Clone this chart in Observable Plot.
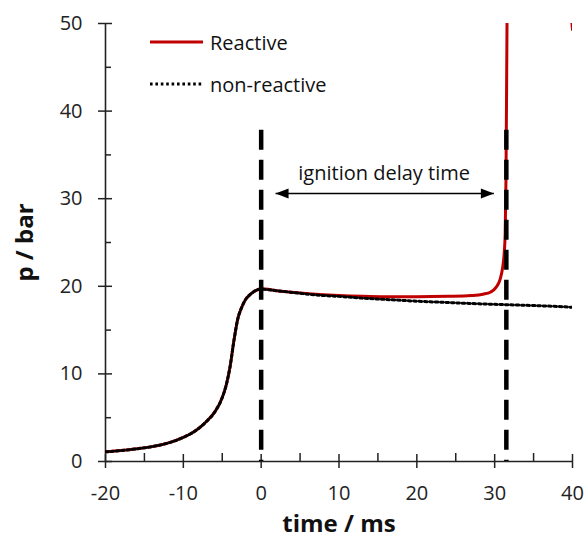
<!DOCTYPE html>
<html>
<head>
<meta charset="utf-8">
<script src="https://cdn.jsdelivr.net/npm/d3@7"></script>
<script src="https://cdn.jsdelivr.net/npm/@observablehq/plot@0.6"></script>
<style>
  html, body { margin: 0; padding: 0; background: #fff; }
  #wrap { position: relative; width: 585px; height: 542px; font-family: "Open Sans", sans-serif; }
  .leg { position: absolute; left: 150px; display: flex; align-items: center; font-size: 20px; color: #111; }
  .leg svg { margin-right: 6px; }
</style>
</head>
<body>
<div id="wrap"></div>
<script>
// ---- data ----
// shared compression phase (both curves coincide before t = 0)
const riseTime     = [-20, -18, -16, -14, -12, -10, -9, -8, -7, -6, -5, -4.5, -4, -3.5, -3, -2.5, -2, -1.5, -1, -0.5];
const risePressure = [1.1, 1.25, 1.45, 1.7, 2.1, 2.75, 3.2, 3.8, 4.6, 5.6, 7.3, 8.7, 10.8, 13.8, 16.3, 17.6, 18.5, 19.0, 19.35, 19.6];
// reactive mixture after end of compression
const reactiveTime     = [0, 0.5, 2, 5, 8, 10, 13, 16, 20, 24, 27, 28.5, 29.5, 30.2, 30.7, 31, 31.2, 31.35, 31.45, 31.55, 31.6, 31.7, 39.7, 40];
const reactivePressure = [19.7, 19.7, 19.5, 19.25, 19.05, 18.95, 18.85, 18.8, 18.8, 18.85, 18.95, 19.1, 19.35, 19.9, 20.8, 22, 23.5, 26, 32, 45, 52, 80, 52, 49.3];
// non-reactive mixture after end of compression
const nonReactiveTime     = [0, 0.5, 2, 5, 8, 10, 13, 16, 20, 24, 28, 31.5, 35, 38, 40];
const nonReactivePressure = [19.7, 19.65, 19.5, 19.2, 18.95, 18.85, 18.65, 18.5, 18.3, 18.15, 18.0, 17.9, 17.8, 17.7, 17.6];
// annotations
const delayMarkers = [0, 31.5];          // end of compression, ignition
const markerTop = 37.8;                  // upper end of dashed markers (bar)
const delayArrow = [{x1: 1.85, x2: 29.9, y: 30.6}];
const delayLabel = [{x: 15.8, y: 32.9, text: "ignition delay time"}];
// axes
const xDomain = [-20, 40], yDomain = [0, 50];
const xMajor = [-20, -10, 0, 10, 20, 30, 40];
const xMinor = [-15, -5, 5, 15, 25, 35];
const yMajor = [0, 10, 20, 30, 40, 50];
const yMinor = [5, 15, 25, 35, 45];
const xLabel = "time / ms", yLabel = "p / bar";
const seriesNames = ["Reactive", "non-reactive"];

// ---- build tables ----
const rise = riseTime.map((t, i) => ({t, p: risePressure[i]}));
const reactive = rise.concat(reactiveTime.map((t, i) => ({t, p: reactivePressure[i]})));
const nonReactive = rise.concat(nonReactiveTime.map((t, i) => ({t, p: nonReactivePressure[i]})));

const headRight = {draw(ctx) { ctx.moveTo(0, 0); ctx.lineTo(-13, -5); ctx.lineTo(-13, 5); ctx.closePath(); }};
const headLeft  = {draw(ctx) { ctx.moveTo(0, 0); ctx.lineTo(13, -5); ctx.lineTo(13, 5); ctx.closePath(); }};
const ink = "#222";
const fmt = d => String(d);
const dotDash = "2.6,2.8";

const chart = Plot.plot({
  width: 585, height: 542,
  marginLeft: 105, marginRight: 13, marginTop: 23, marginBottom: 81,
  x: {domain: xDomain},
  y: {domain: yDomain},
  style: {fontFamily: "Open Sans, sans-serif", fontSize: "20px", color: ink, background: "white"},
  marks: [
    // axis lines
    Plot.ruleX([xDomain[0]], {stroke: ink, strokeWidth: 1.6}),
    Plot.ruleY([yDomain[0]], {stroke: ink, strokeWidth: 1.6}),
    // y ticks
    Plot.axisY({ticks: yMajor, tickSize: 14, dx: 7, text: null, label: null, stroke: ink, strokeWidth: 1.5}),
    Plot.axisY({ticks: yMinor, tickSize: 6, dx: 6, text: null, label: null, stroke: ink, strokeWidth: 1.5}),
    Plot.axisY({ticks: yMajor, tickSize: 0, tickPadding: 23, tickFormat: fmt, label: null, fill: ink}),
    // x ticks
    Plot.axisX({ticks: xMajor, tickSize: 14, dy: -7, text: null, label: null, stroke: ink, strokeWidth: 1.5}),
    Plot.axisX({ticks: xMinor, tickSize: 8, dy: -8, text: null, label: null, stroke: ink, strokeWidth: 1.5}),
    Plot.axisX({ticks: xMajor, tickSize: 0, tickPadding: 24, tickFormat: fmt, label: null, fill: ink}),
    // axis titles
    Plot.text([xLabel], {frameAnchor: "bottom", textAnchor: "middle", lineAnchor: "middle", dy: 63, fontWeight: "bold", fontSize: 24, fill: "#111"}),
    Plot.text([yLabel], {frameAnchor: "left", textAnchor: "middle", lineAnchor: "middle", dx: -80, rotate: -90, fontWeight: "bold", fontSize: 24, fill: "#111"}),
    // curves
    Plot.line(reactive, {x: "t", y: "p", stroke: "#C00000", strokeWidth: 3, curve: "monotone-x", clip: true}),
    Plot.line(nonReactive, {x: "t", y: "p", stroke: "#000", strokeWidth: 3, strokeDasharray: dotDash, curve: "monotone-x", clip: true}),
    // dashed markers
    Plot.ruleX(delayMarkers, {y1: markerTop, y2: 0, stroke: "#000", strokeWidth: 4.5, strokeDasharray: "20,10"}),
    // ignition delay arrow
    Plot.link(delayArrow, {x1: "x1", x2: "x2", y1: "y", y2: "y", stroke: "#000", strokeWidth: 1.5}),
    Plot.dot(delayArrow, {x: "x2", y: "y", symbol: headRight, r: 5, fill: "#000", stroke: null}),
    Plot.dot(delayArrow, {x: "x1", y: "y", symbol: headLeft, r: 5, fill: "#000", stroke: null}),
    Plot.text(delayLabel, {x: "x", y: "y", text: "text", fontSize: 20, fill: "#111"})
  ]
});

const wrap = document.getElementById("wrap");
wrap.appendChild(chart);

// legend (inside plot area, top-left)
const legendItems = [
  {name: seriesNames[0], top: 42, stroke: "#C00000", width: 3, dash: null},
  {name: seriesNames[1], top: 84, stroke: "#000", width: 3, dash: dotDash}
];
for (const it of legendItems) {
  const row = document.createElement("div");
  row.className = "leg";
  row.style.top = (it.top - 14) + "px";
  row.style.height = "28px";
  row.innerHTML = `<svg width="54" height="10"><line x1="0" x2="53" y1="5" y2="5" stroke="${it.stroke}" stroke-width="${it.width}" ${it.dash ? `stroke-dasharray="${it.dash}"` : ""}/></svg><span>${it.name}</span>`;
  wrap.appendChild(row);
}
</script>
</body>
</html>
